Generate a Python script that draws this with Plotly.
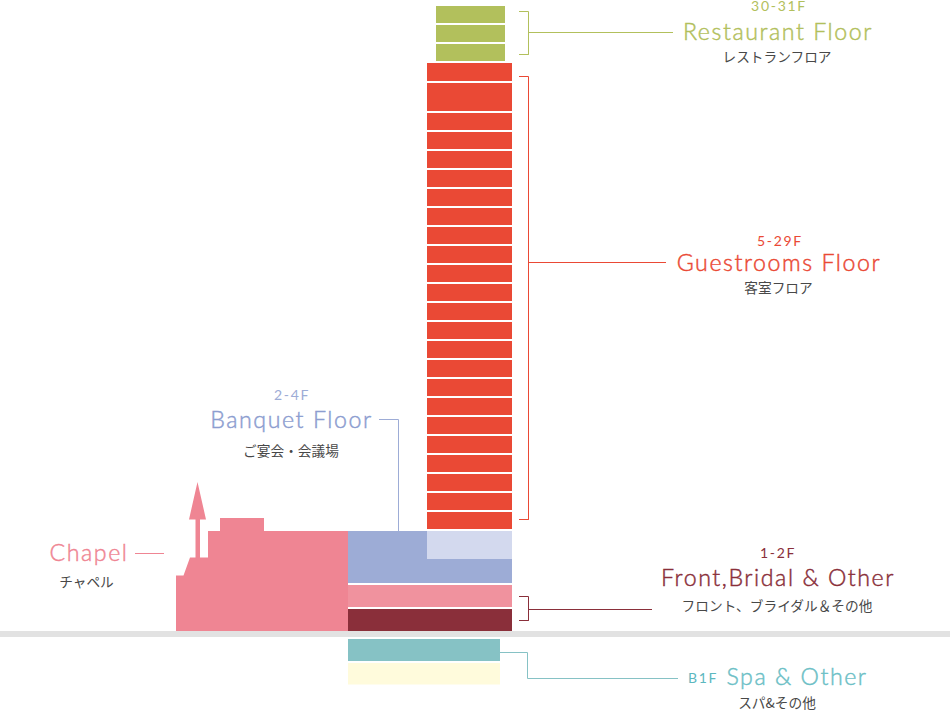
import numpy as np
import plotly.graph_objects as go

# everything is measured in screen pixels of the section drawing, y runs downward
restaurant_top = [6, 25, 44]
restaurant_bottom = [23, 42, 61]

guest_top = [63, 83, 113, 132, 151, 170, 189, 208, 227, 246, 265, 284, 303, 322,
             341, 360, 379, 398, 417, 436, 455, 474, 493, 512]
guest_bottom = [81, 111, 130, 149, 168, 187, 206, 225, 244, 263, 282, 301, 320, 339,
                358, 377, 396, 415, 434, 453, 472, 491, 510, 529]

chapel_x = [176, 176, 183.5, 190, 195.5, 195.5, 189, 197.5, 206, 200, 200, 208, 208, 220, 220, 264, 264, 348, 348]
chapel_y = [631, 575.5, 575.5, 557.5, 557.5, 519.5, 519.5, 482, 519.5, 519.5, 557.5, 557.5, 531, 531, 518, 518, 531, 531, 631]

restaurant_line_x = [519, 528.5, 528.5, 519, 528.5, 528.5, 673]
restaurant_line_y = [11.5, 11.5, 54.5, 54.5, 54.5, 32.5, 32.5]
guest_line_x = [519, 528.5, 528.5, 519, 528.5, 528.5, 666]
guest_line_y = [76.5, 76.5, 519.5, 519.5, 519.5, 262.5, 262.5]
front_line_x = [519, 528.5, 528.5, 519, 528.5, 528.5, 652]
front_line_y = [596.5, 596.5, 620.5, 620.5, 620.5, 609.5, 609.5]
spa_line_x = [500, 527.5, 527.5, 678]
spa_line_y = [652.5, 652.5, 678.5, 678.5]
banquet_line_x = [379, 398.5, 398.5]
banquet_line_y = [419.5, 419.5, 531]
chapel_line_x = [135, 164]
chapel_line_y = [553.5, 553.5]

RED = '#ea4935'
OLIVE = '#b2c05c'
BLUE = '#9dacd6'
PINK = '#ef8593'
WINE = '#8a2f3a'
TEAL = '#86c2c5'
GREY_TEXT = '#484848'

fig = go.Figure()


def add_block(left, right, top, bottom, color):
    top = np.array(top, dtype=float)
    bottom = np.array(bottom, dtype=float)
    fig.add_trace(go.Bar(x=np.full(len(top), (left + right) / 2), y=bottom - top, base=top,
                         width=np.full(len(top), right - left),
                         marker=dict(color=color, line=dict(width=0)), hoverinfo='skip'))


def add_line(x, y, color):
    fig.add_trace(go.Scatter(x=x, y=y, mode='lines', line=dict(color=color, width=1), hoverinfo='skip'))


def add_text(x, y, text, color, size, font='Lato', weight=300):
    fig.add_trace(go.Scatter(x=[x], y=[y], mode='text', text=[text], textposition='middle center',
                             textfont=dict(color=color, size=size, family=font, weight=weight),
                             cliponaxis=False, hoverinfo='skip'))


add_block(0, 950, [631], [637], '#e2e2e2')
add_block(436, 505, restaurant_top, restaurant_bottom, OLIVE)
add_block(427, 512, guest_top, guest_bottom, RED)
add_block(348, 512, [531], [583], BLUE)
add_block(427, 512, [531], [559], '#d3d9ee')
add_block(348, 512, [585], [607], '#f0929e')
add_block(348, 512, [609], [631], WINE)
add_block(348, 500, [639], [661], TEAL)
add_block(348, 500, [663], [684.5], '#fffbdc')

fig.add_trace(go.Scatter(x=chapel_x, y=chapel_y, mode='lines', fill='toself', fillcolor=PINK,
                         line=dict(width=0), hoverinfo='skip'))

add_line(restaurant_line_x, restaurant_line_y, OLIVE)
add_line(guest_line_x, guest_line_y, RED)
add_line(front_line_x, front_line_y, WINE)
add_line(spa_line_x, spa_line_y, TEAL)
add_line(banquet_line_x, banquet_line_y, BLUE)
add_line(chapel_line_x, chapel_line_y, PINK)

JP = 'Noto Sans CJK JP'
HEAD = 23.2
add_text(779, 7, '30-31F', OLIVE, 14, weight=400)
add_text(778, 34, 'Restaurant Floor', OLIVE, HEAD)
add_text(777, 58.5, 'レストランフロア', GREY_TEXT, 13.7, JP, 400)
add_text(780, 242, '5-29F', RED, 14, weight=400)
add_text(779, 265, 'Guestrooms Floor', RED, HEAD)
add_text(778.5, 289.5, '客室フロア', GREY_TEXT, 13.7, JP, 400)
add_text(292, 396, '2-4F', BLUE, 14, weight=400)
add_text(291.5, 422, 'Banquet Floor', '#8c9dd0', HEAD)
add_text(291, 452.5, 'ご宴会・会議場', GREY_TEXT, 13.7, JP, 400)
add_text(89, 555, 'Chapel', PINK, HEAD)
add_text(86.5, 583.5, 'チャペル', GREY_TEXT, 13.7, JP, 400)
add_text(778, 554, '1-2F', WINE, 14, weight=400)
add_text(778, 580, 'Front,Bridal & Other', WINE, HEAD)
add_text(777, 607.5, 'フロント、ブライダル＆その他', GREY_TEXT, 13.7, JP, 400)
add_text(703, 679.5, 'B1F', '#5cb8bf', 14, weight=400)
add_text(797, 679, 'Spa & Other', '#6cc0c6', HEAD)
add_text(777, 704.5, 'スパ&その他', GREY_TEXT, 13.7, JP, 400)

fig.update_layout(width=950, height=710, margin=dict(l=0, r=0, t=0, b=0), barmode='overlay',
                  showlegend=False, plot_bgcolor='white', paper_bgcolor='white')
fig.update_xaxes(range=[0, 950], visible=False)
fig.update_yaxes(range=[710, 0], visible=False)

# plotly has no letter spacing setting, the headings in the drawing are tracked out
# the thin stroke brings the light Lato up to the colour strength of the original lettering
spacing_js = """
document.body.style.margin = '0';
document.querySelectorAll('.textpoint text').forEach(function (t) {
    var size = parseFloat(t.style.fontSize);
    if (size > 20) {
        t.style.letterSpacing = '1.55px';
        t.style.stroke = t.style.fill;
        t.style.strokeWidth = '0.45px';
    } else if (size === 14) {
        t.style.letterSpacing = '1.7px';
    }
});
"""
fig.write_html("out.html", config=dict(displayModeBar=False), post_script=spacing_js)
